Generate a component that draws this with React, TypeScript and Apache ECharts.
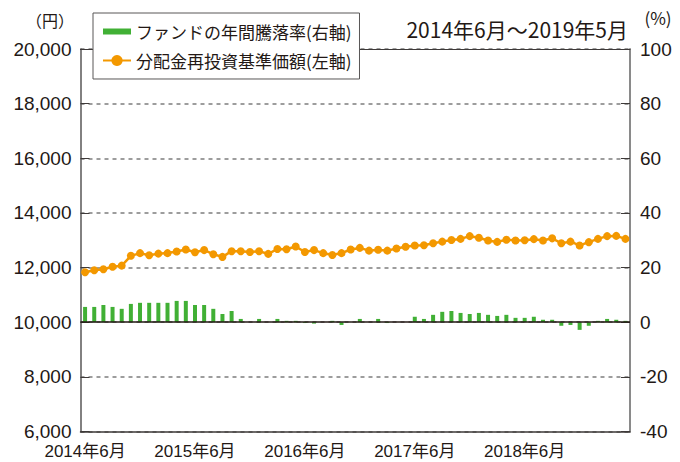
import React, { useEffect, useRef } from "react";
import * as echarts from "echarts";

const START_YEAR = 2014;
const START_MONTH = 6;
const MONTH_COUNT = 60;
const months: string[] = [];
for (let i = 0; i < MONTH_COUNT; i++) {
  const m = START_MONTH - 1 + i;
  months.push(`${START_YEAR + Math.floor(m / 12)}年${(m % 12) + 1}月`);
}

const navValues = [
  11830, 11900, 11940, 12030, 12070, 12430, 12530, 12450, 12510, 12530,
  12590, 12660, 12560, 12640, 12490, 12390, 12600, 12600, 12570, 12600,
  12500, 12680, 12670, 12770, 12570, 12640, 12530, 12460, 12530, 12660,
  12720, 12620, 12650, 12620, 12700, 12760, 12810, 12820, 12890, 12950,
  13010, 13050, 13150, 13090, 12990, 12940, 13020, 12990, 13000, 13040,
  12990, 13070, 12890, 12950, 12810, 12930, 13050, 13150, 13160, 13050,
];

const annualReturn = [
  5.6, 5.6, 6.3, 5.6, 4.9, 6.7, 7.1, 7.1, 7.1, 7.1,
  7.8, 7.8, 6.3, 6.3, 4.9, 3.0, 4.1, 1.2, 0, 1.2,
  0, 1.2, 0.5, 0.5, -0.3, -0.5, 0, 0.5, -1.0, 0,
  1.2, 0, 1.2, -0.3, 0, 0, 2.0, 1.2, 2.7, 3.8,
  4.1, 3.4, 3.0, 3.4, 2.7, 2.3, 2.7, 1.6, 1.6, 2.0,
  0.9, 0.9, -1.3, -1.0, -2.8, -1.3, 0.5, 1.2, 0.9, 0.5,
];

const BAR_NAME = "ファンドの年間騰落率(右軸)";
const LINE_NAME = "分配金再投資基準価額(左軸)";
const PERIOD = "2014年6月～2019年5月";

const FONT = "Noto Sans CJK JP";
const NUM_FONT = "'Liberation Sans', 'Noto Sans CJK JP', sans-serif";
const TEXT = "#231815";
const ORANGE = "#F39800";
const GREEN = "#41B035";

export default function App() {
  const ref = useRef<HTMLDivElement>(null);
  useEffect(() => {
    if (!ref.current) return;
    const chart = echarts.init(ref.current, null, { renderer: "svg" });
    chart.setOption({
      animation: false,
      backgroundColor: "#fff",
      textStyle: { fontFamily: FONT, color: TEXT },
      grid: { left: 80.5, right: 50, top: 49, bottom: 30.5, containLabel: false },
      legend: {
        left: 93,
        top: 13,
        orient: "vertical",
        backgroundColor: "#fff",
        borderColor: "#595757",
        borderWidth: 1,
        borderRadius: 0,
        padding: [10, 8, 10, 9],
        itemGap: 12,
        itemWidth: 28,
        itemHeight: 14,
        z: 10,
        textStyle: { fontFamily: FONT, fontSize: 17, color: TEXT },
        data: [
          { name: BAR_NAME, icon: "path://M0,0H28V6H0Z" },
          { name: LINE_NAME },
        ],
      },
      graphic: [
        {
          type: "text",
          right: 52,
          top: 18,
          style: { text: PERIOD, fontSize: 21, fontFamily: FONT, fill: TEXT },
        },
        {
          type: "text",
          x: 74,
          y: 20,
          style: {
            text: "（円）",
            fontSize: 16,
            fontFamily: FONT,
            fill: TEXT,
            align: "right",
            verticalAlign: "middle",
          },
        },
        {
          type: "text",
          x: 658,
          y: 17,
          style: {
            text: "(%)",
            fontSize: 17,
            fontFamily: FONT,
            fill: TEXT,
            align: "center",
            verticalAlign: "middle",
          },
        },
      ],
      xAxis: [
        {
          type: "category",
          data: months,
          boundaryGap: true,
          position: "bottom",
          axisLine: { onZero: false, lineStyle: { color: "#3e3a39", width: 1.5 } },
          axisTick: {
            inside: true,
            length: 7,
            alignWithLabel: true,
            interval: (i: number) => i > 0 && i % 12 === 0,
            lineStyle: { color: "#3e3a39", width: 1 },
          },
          axisLabel: {
            interval: 11,
            fontSize: 17,
            lineHeight: 17,
            color: TEXT,
            fontFamily: NUM_FONT,
            margin: 11,
          },
          splitLine: { show: false },
        },
        {
          type: "category",
          data: months,
          position: "top",
          axisLine: { onZero: false, lineStyle: { color: "#3e3a39", width: 1 } },
          axisTick: { show: false },
          axisLabel: { show: false },
          splitLine: { show: false },
        },
      ],
      yAxis: [
        {
          type: "value",
          min: 6000,
          max: 20000,
          interval: 2000,
          position: "left",
          axisLine: { show: true, lineStyle: { color: "#595757", width: 1.5 } },
          axisTick: { show: true, inside: true, length: 9, lineStyle: { color: "#3e3a39" } },
          axisLabel: {
            fontSize: 19,
            lineHeight: 16,
            color: TEXT,
            fontFamily: NUM_FONT,
            margin: 9,
            formatter: (v: number) => v.toLocaleString("en-US"),
          },
          splitLine: {
            show: true,
            lineStyle: { color: "#7d7d7d", type: [4, 4], width: 1.5 },
          },
        },
        {
          type: "value",
          min: -40,
          max: 100,
          interval: 20,
          position: "right",
          axisLine: { show: true, lineStyle: { color: "#8a8a8a", width: 2 } },
          axisTick: { show: true, inside: true, length: 9, lineStyle: { color: "#3e3a39" } },
          axisLabel: { fontSize: 19, lineHeight: 16, color: TEXT, fontFamily: NUM_FONT, margin: 10 },
          splitLine: { show: false },
        },
      ],
      series: [
        {
          name: BAR_NAME,
          type: "bar",
          xAxisIndex: 0,
          yAxisIndex: 1,
          data: annualReturn,
          barWidth: 4,
          itemStyle: { color: GREEN },
          z: 2,
          markLine: {
            silent: true,
            symbol: "none",
            label: { show: false },
            lineStyle: { color: TEXT, type: "solid", width: 1.5 },
            data: [{ yAxis: 0 }],
          },
        },
        {
          name: LINE_NAME,
          type: "line",
          xAxisIndex: 0,
          yAxisIndex: 0,
          data: navValues,
          symbol: "circle",
          symbolSize: 8,
          showAllSymbol: true,
          lineStyle: { color: ORANGE, width: 2.5 },
          itemStyle: { color: ORANGE },
          z: 3,
        },
      ],
    });
    return () => chart.dispose();
  }, []);
  return (
    <div
      ref={ref}
      style={{ position: "fixed", left: 0, top: 0, width: 680, height: 462 }}
    />
  );
}
